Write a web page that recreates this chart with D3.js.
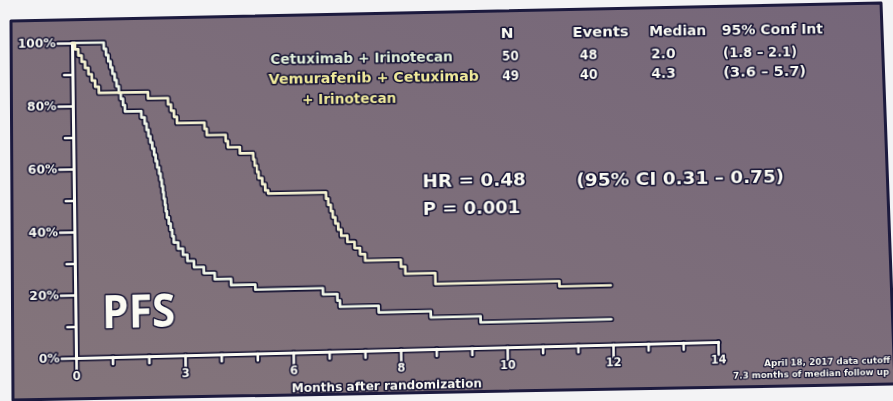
<!DOCTYPE html>
<html>
<head>
<meta charset="utf-8">
<script src="https://cdn.jsdelivr.net/npm/d3@7"></script>
<style>
  html, body { margin: 0; padding: 0; width: 893px; height: 401px; overflow: hidden; background: #f3f3f5; }
  #bg, #plot { position: absolute; left: 0; top: 0; }
  #plot { transform-origin: 0 0; overflow: visible; }
</style>
</head>
<body>
<svg id="bg" width="893" height="401"></svg>
<svg id="plot" width="900" height="420"></svg>
<script>
// ---- data -------------------------------------------------------------
// Kaplan-Meier steps: time on the axis scale, survival in percent after each step
const ctrlTime = [0, 0.87, 0.93, 0.99, 1.05, 1.10, 1.16, 1.21, 1.27, 1.32, 1.38, 1.43,
  1.88, 1.97, 2.02, 2.07, 2.12, 2.17, 2.22, 2.26, 2.30, 2.35, 2.39, 2.42, 2.45, 2.47,
  2.50, 2.52, 2.55, 2.60, 2.65, 2.69, 2.73, 2.85, 2.98, 3.10, 3.28, 3.55, 3.85, 4.30,
  4.97, 6.85, 7.25, 7.32, 8.40, 9.86, 11.26];
const ctrlSurv = [100, 98, 96, 94, 92, 90, 88, 86, 84, 82, 80, 78,
  76, 74, 72, 70, 68, 66, 64, 62, 60, 58, 56, 54, 52, 50,
  48, 46, 44, 42, 40, 38, 36, 34, 32, 30, 28, 26, 24, 22,
  20.4, 18.4, 16.3, 14.3, 12.2, 10.2, 8.2];
const ctrlEnd = 14.96;

const vemTime = [0, 0.08, 0.17, 0.26, 0.35, 0.44, 0.53, 0.62, 0.72,
  2.07, 2.62, 2.70, 2.78, 2.86, 3.62, 3.68, 4.20, 4.26, 4.59, 4.96, 5.00, 5.05, 5.10,
  5.20, 5.28, 5.36, 6.97, 7.03, 7.10, 7.15, 7.22, 7.30, 7.38, 7.55, 7.75, 7.90, 8.04,
  9.04, 9.16, 10.0, 13.5];
const vemSurv = [100, 98, 96, 94, 92, 90, 88, 86, 84,
  82, 80, 78, 76, 74, 72, 70, 68, 66, 64, 62, 60, 58, 56,
  54, 52, 51, 49, 47, 45, 43, 41, 39, 37, 35, 33, 31, 28.9,
  26.7, 24.4, 20.9, 19.2];
const vemEnd = 14.96;

// axis ticks
const xMajor = [0, 3, 6, 9, 12, 15, 18];
const xTickLabels = ["0", "3", "6", "8", "10", "12", "14"];
const xMinor = [1, 2, 4, 5, 7, 8, 10, 11, 13, 14, 16, 17];
const yMajor = [0, 20, 40, 60, 80, 100];
const yTickLabels = ["0%", "20%", "40%", "60%", "80%", "100%"];
const yMinor = [10, 30, 50, 70, 90];

// summary table
const armNames = ["Cetuximab + Irinotecan", "Vemurafenib + Cetuximab"];
const armNameCont = "+ Irinotecan";
const armN = ["50", "49"];
const armEvents = ["48", "40"];
const armMedian = ["2.0", "4.3"];
const armCI = ["(1.8 – 2.1)", "(3.6 – 5.7)"];
const tableHead = ["N", "Events", "Median", "95% Conf Int"];
const hrLines = ["HR = 0.48", "P = 0.001"];
const hrCI = "(95% CI 0.31 – 0.75)";
const footnote = ["April 18, 2017 data cutoff", "7.3 months of median follow up"];

// ---- colours / fonts --------------------------------------------------
const INK = "#151333";
const WHITE = "#fbfbf3";
const CTRL_COL = "#f0f6e8";
const VEM_COL = "#f5f2d2";
const CTRL_TXT = "#e4f2dc";
const VEM_TXT = "#f2ec9c";
const FONT = "DejaVu Sans, Liberation Sans, sans-serif";

// ---- slide panel ------------------------------------------------------
const bg = d3.select("#bg");
const grad = bg.append("defs").append("linearGradient")
  .attr("id", "panelFill").attr("x1", 1).attr("y1", 0).attr("x2", 0).attr("y2", 1);
grad.append("stop").attr("offset", 0).attr("stop-color", "#756679");
grad.append("stop").attr("offset", 1).attr("stop-color", "#84757b");
bg.append("rect").attr("width", 893).attr("height", 401).attr("fill", "#f3f3f5");
bg.append("polygon")
  .attr("points", "11,21 881,3 895,384 13,400")
  .attr("fill", "url(#panelFill)")
  .attr("stroke", "#1c1a3e").attr("stroke-width", 3).attr("stroke-linejoin", "round");

// ---- chart ------------------------------------------------------------
const svg = d3.select("#plot");
const x = d3.scaleLinear().domain([0, 18]).range([76, 718]);
const y = d3.scaleLinear().domain([0, 100]).range([358, 43]);

const gDark = svg.append("g");   // dark outline layer
const gLight = svg.append("g");  // light strokes on top
const gText = svg.append("g");

function drawAxes(layer, dark) {
  const col = dark ? INK : WHITE;
  const extra = dark ? 3.2 : 0;
  function style(sel) {
    sel.selectAll("path.domain").attr("stroke", col).attr("stroke-width", 3 + extra)
      .attr("stroke-linecap", "round");
    sel.selectAll(".tick line").attr("stroke", col).attr("stroke-width", 2.6 + extra)
      .attr("stroke-linecap", "round");
    if (dark) {
      sel.selectAll(".tick text").remove();
    } else {
      sel.selectAll(".tick text")
        .attr("fill", WHITE).attr("font-family", FONT)
        .attr("font-weight", "bold").attr("font-size", 11.5)
        .attr("stroke", INK).attr("stroke-width", 3).attr("stroke-linejoin", "round")
        .attr("paint-order", "stroke");
    }
  }
  const gxMinor = layer.append("g").attr("transform", `translate(0,${y(0)})`)
    .call(d3.axisBottom(x).tickValues(xMinor).tickSize(7).tickFormat(""));
  gxMinor.select(".domain").remove();
  style(gxMinor);
  const gx = layer.append("g").attr("transform", `translate(0,${y(0)})`)
    .call(d3.axisBottom(x).tickValues(xMajor).tickSize(13).tickSizeOuter(0).tickPadding(1)
      .tickFormat((d, i) => xTickLabels[i]));
  style(gx);
  const gyMinor = layer.append("g").attr("transform", `translate(${x(0)},0)`)
    .call(d3.axisLeft(y).tickValues(yMinor).tickSize(8).tickFormat(""));
  gyMinor.select(".domain").remove();
  style(gyMinor);
  const gy = layer.append("g").attr("transform", `translate(${x(0)},0)`)
    .call(d3.axisLeft(y).tickValues(yMajor).tickSize(14).tickSizeOuter(0).tickPadding(2)
      .tickFormat((d, i) => yTickLabels[i]));
  style(gy);
  gy.selectAll(".tick text").attr("font-size", 12);
}
drawAxes(gDark, true);
drawAxes(gLight, false);

// survival curves
const kmLine = d3.line().x(d => x(d[0])).y(d => y(d[1])).curve(d3.curveStepAfter);
function kmPoints(times, surv, end) {
  const pts = times.map((t, i) => [t, surv[i]]);
  pts.push([end, surv[surv.length - 1]]);
  return pts;
}
[[kmPoints(ctrlTime, ctrlSurv, ctrlEnd), CTRL_COL],
 [kmPoints(vemTime, vemSurv, vemEnd), VEM_COL]].forEach(([pts, col]) => {
  gDark.append("path").datum(pts).attr("d", kmLine).attr("fill", "none")
    .attr("stroke", INK).attr("stroke-width", 5.8).attr("stroke-linejoin", "round")
    .attr("stroke-linecap", "round");
  gLight.append("path").datum(pts).attr("d", kmLine).attr("fill", "none")
    .attr("stroke", col).attr("stroke-width", 2.7).attr("stroke-linejoin", "round")
    .attr("stroke-linecap", "round");
});

// text helper: light glyphs with a dark rim
function txt(s, xp, yp, size, width, fill, anchor, family, weight, rim) {
  const t = gText.append("text")
    .attr("x", xp).attr("y", yp)
    .attr("dominant-baseline", "central")
    .attr("text-anchor", anchor || "start")
    .attr("font-family", family || FONT)
    .attr("font-weight", weight || "bold")
    .attr("font-size", size)
    .attr("fill", fill || WHITE)
    .attr("stroke", INK).attr("stroke-width", rim || 3.2)
    .attr("stroke-linejoin", "round").attr("paint-order", "stroke")
    .text(s);
  if (width) t.attr("textLength", width).attr("lengthAdjust", "spacingAndGlyphs");
  return t;
}

// summary table
txt(tableHead[0], 508, 39.5, 13.5, 13, WHITE, "middle");
txt(tableHead[1], 574, 39.5, 13.5, 57);
txt(tableHead[2], 652, 39.5, 13.5, 58);
txt(tableHead[3], 726, 39.5, 13.5, 104);

const rowY = [62, 82];
const nameCol = [CTRL_TXT, VEM_TXT];
const nameX = [271, 269];
const nameW = [182, 210];
const ciW = [76, 85];
rowY.forEach((ry, i) => {
  txt(armNames[i], nameX[i], ry, 13.5, nameW[i], nameCol[i]);
  txt(armN[i], 511, ry, 14, 17, WHITE, "middle");
  txt(armEvents[i], 590, ry, 14, 18, WHITE, "middle");
  txt(armMedian[i], 666, ry, 14, 25, WHITE, "middle");
  txt(armCI[i], 727, ry, 14, ciW[i]);
});
txt(armNameCont, 302, 103, 13.5, 94, VEM_TXT);

// hazard ratio
txt(hrLines[0], 421, 187.5, 18, 104);
txt(hrLines[1], 421, 216, 18, 98);
txt(hrCI, 576, 190, 18, 212);

// panel tag
txt("PFS", 102, 311, 46, 72, WHITE, "start", "Open Sans, Noto Sans, sans-serif", 700, 3);

// axis title and footnote
txt("Months after randomization", 288, 394, 12, 190);
txt(footnote[0], 765, 381, 9, null, WHITE, "start", FONT, "bold", 2.4);
txt(footnote[1], 733, 393, 9, null, WHITE, "start", FONT, "bold", 2.4);

// ---- slight keystone of the projected slide ---------------------------
function homography(src, dst) {
  const A = [], b = [];
  for (let i = 0; i < 4; i++) {
    const [sx, sy] = src[i], [dx, dy] = dst[i];
    A.push([sx, sy, 1, 0, 0, 0, -sx * dx, -sy * dx]); b.push(dx);
    A.push([0, 0, 0, sx, sy, 1, -sx * dy, -sy * dy]); b.push(dy);
  }
  const n = 8;
  for (let c = 0; c < n; c++) {
    let p = c;
    for (let r = c + 1; r < n; r++) if (Math.abs(A[r][c]) > Math.abs(A[p][c])) p = r;
    [A[c], A[p]] = [A[p], A[c]]; [b[c], b[p]] = [b[p], b[c]];
    for (let r = 0; r < n; r++) {
      if (r === c) continue;
      const f = A[r][c] / A[c][c];
      for (let k = c; k < n; k++) A[r][k] -= f * A[c][k];
      b[r] -= f * b[c];
    }
  }
  return b.map((v, i) => v / A[i][i]);
}
const hm = homography(
  [[76, 358], [718, 358], [76, 43], [718, 43]],
  [[76, 358], [718, 342], [72, 43], [714, 34]]
);
document.getElementById("plot").style.transform =
  `matrix3d(${hm[0]},${hm[3]},0,${hm[6]},${hm[1]},${hm[4]},0,${hm[7]},0,0,1,0,${hm[2]},${hm[5]},0,1)`;
</script>
</body>
</html>
